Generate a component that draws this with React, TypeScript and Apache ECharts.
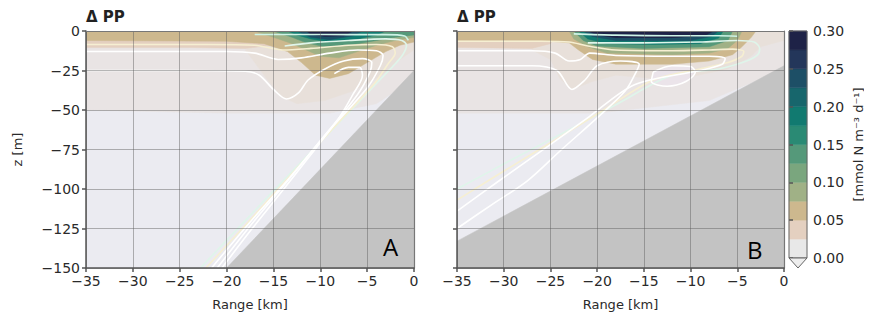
import React, { useEffect, useRef } from "react";
import * as echarts from "echarts";

const FONT = "DejaVu Sans";
const TXT = "#2a2a2a";

// ---- colour bar ----
const cbarLevels = [0, 0.025, 0.05, 0.075, 0.1, 0.125, 0.15, 0.175, 0.2, 0.225, 0.25, 0.275, 0.3];
const cbarColors = ["#e8e8e8", "#e4d0c0", "#cdb88e", "#a0b186", "#7aa67e", "#55997a", "#2a8a74", "#117a70", "#17666c", "#1d4f66", "#23365a", "#1e2247"];
const NEG = "#ebebf1";
const PINK = "#e9e4e4";
const PALE = "#e8e0da";
const GROUND = "#c3c3c3";

// ---- panel A fields (x = range km, z = depth m) ----
const A_water = [[-35, 0], [0, 0], [0, -150], [-35, -150]];
const A_lv0 = [[-35, 0], [0, 0], [0, -30], [-4, -46], [-9, -52], [-20, -52], [-35, -50]];
const A_pale = [[-14, 0], [0, 0], [0, -12], [-1.5, -18], [-3.5, -28], [-6.5, -38], [-9.5, -44], [-12.5, -46], [-14, -42], [-15.5, -32], [-17, -20], [-18, -12]];
const A_lv1 = [[-35, 0], [-14, 0], [-15, -9], [-18, -11], [-24, -10.5], [-35, -10.5]];
const A_lv2 = [[-35, 0], [0, 0], [0, -7], [-1.5, -9], [-3, -13], [-5, -20], [-7, -27], [-9, -30], [-10.5, -28], [-12, -20], [-13.5, -13], [-16, -8], [-20, -6.5], [-35, -6]];
const A_lv3 = [[-17, 0], [0, 0], [0, -4], [-2, -6], [-4, -9], [-6, -13], [-8, -17], [-10, -16], [-11.5, -12], [-13, -8], [-15, -4]];
const A_lv5 = [[-15, 0], [0, 0], [0, -2.5], [-2, -4], [-4, -6], [-7, -9], [-9.5, -10], [-11.5, -7.5], [-13, -4]];
const A_lv7 = [[-13.5, 0], [-3, 0], [-4, -2.5], [-6, -5], [-9, -7], [-11, -5], [-12.5, -2.5]];
const A_lv9 = [[-12.5, 0], [-5.5, 0], [-6.5, -3], [-9, -5.5], [-11, -4]];
const A_lv11 = [[-11.5, 0], [-6.5, 0], [-7.5, -3], [-9.5, -3.5], [-11, -2]];
const A_ground = [[-20, -150], [0, -25], [0, -150]];

// ---- panel B fields ----
const B_water = [[-35, 0], [0, 0], [0, -150], [-35, -150]];
const B_lv0 = [[-35, 0], [0, 0], [0, -24], [-8, -44], [-20, -52], [-35, -52]];
const B_pale = [[-26, 0], [0, 0], [0, -6], [-2.5, -10], [-3.5, -16], [-6, -24], [-10, -29], [-14, -30], [-18, -28], [-20.5, -32], [-22.7, -37], [-24, -30], [-25, -18], [-27, -12]];
const B_lv1 = [[-35, 0], [-24, 0], [-25, -8], [-27, -11], [-35, -10.5]];
const B_loop = [[-14, -26], [-12, -22], [-10, -22.5], [-9.5, -26], [-10.5, -32], [-12.5, -35], [-14.2, -32]];
const B_lv2 = [[-35, 0], [-3, 0], [-3.5, -4], [-4.5, -10], [-5.5, -15], [-8, -19], [-12, -21], [-18, -21], [-20.5, -18], [-22, -12], [-23, -7.5], [-26, -6], [-35, -6]];
const B_lv3 = [[-23, 0], [-4.5, 0], [-5, -6], [-6, -11], [-8, -14], [-12, -15], [-19, -14], [-21, -10], [-22.5, -5]];
const B_lv5 = [[-22.5, 0], [-5.5, 0], [-6, -6], [-8, -10], [-15, -11], [-20, -9.5], [-21.5, -6]];
const B_lv7 = [[-22, 0], [-6.5, 0], [-7, -4.5], [-9, -8], [-14, -8.5], [-19, -8], [-21, -5]];
const B_lv9 = [[-21.5, 0], [-7, 0], [-7.8, -3.5], [-10, -6], [-18, -6], [-20.5, -3.5]];
const B_lv11 = [[-21, 0], [-7.5, 0], [-8.5, -3], [-12, -4.2], [-18, -4.2], [-20, -2.5]];
const B_ground = [[-35, -133], [0, -22], [0, -150], [-35, -150]];

// ---- contour lines ----
const A_c1 = [[-17, -2.2], [-12, -2.2], [-7, -2.3], [-3, -2.3], [-1, -3.2], [-0.6, -6]];
const A_c2 = [[-13.8, -9.5], [-11, -7.5], [-7, -6], [-3, -5], [-1.3, -6], [-0.8, -9], [-1.2, -15], [-2.2, -22], [-3.5, -30], [-8.3, -60], [-13.2, -90], [-18, -120], [-22.8, -150]];
const A_c3 = [[-35, -8.5], [-22, -8.5], [-17, -9], [-14, -12], [-11, -11], [-7, -9], [-4, -8.5], [-2.3, -10], [-2, -14], [-2.8, -21], [-4.2, -33], [-8.7, -62], [-13.2, -91.5], [-17.7, -121], [-22.2, -150]];
const A_c4 = [[-35, -13], [-20, -13], [-17, -14], [-14.5, -18], [-12, -17], [-9, -14], [-6, -12], [-4, -12.5], [-3.3, -15.5], [-3.6, -22], [-5, -36], [-9.2, -64], [-13.3, -93], [-17.5, -121], [-21.6, -150]];
const A_c5 = [[-35, -25], [-25, -25], [-18, -25.5], [-16.5, -28], [-15, -37], [-13.6, -43], [-12.3, -39], [-11.3, -31], [-9.5, -24], [-7.5, -19], [-5.5, -17.5], [-4.5, -20], [-4.7, -26], [-6, -40], [-9.8, -68], [-13.5, -95], [-17.3, -122], [-21, -150]];
const A_c6 = [[-8.5, -27], [-7, -23], [-5.8, -23], [-5.5, -28], [-6.5, -40], [-8, -55], [-11.1, -79], [-14.3, -103], [-17.4, -126], [-20.5, -150]];

const B_c1 = [[-22.5, -1.8], [-18, -2.6], [-12, -3], [-7, -3], [-5, -3.3]];
const B_c2 = [[-21, -7.5], [-15, -7.5], [-9, -7], [-5, -6], [-3.2, -7], [-2.6, -11], [-2.8, -15], [-4, -19], [-7, -24], [-12, -28], [-17.8, -46], [-23.5, -64], [-29.3, -82], [-35, -100]];
const B_c3 = [[-35, -6.5], [-26, -6.5], [-23, -7], [-21, -9.5], [-18, -12], [-12, -12.5], [-8, -12], [-5.5, -11.5], [-4.3, -13], [-4.5, -16], [-6, -20], [-9, -24], [-14, -31], [-19.3, -50], [-24.5, -69], [-29.8, -88], [-35, -107]];
const B_c4 = [[-35, -12.5], [-27, -12.5], [-24.5, -14], [-23, -19], [-21.8, -18], [-20.8, -14], [-18, -15.5], [-12, -16], [-8, -16], [-6.3, -17.5], [-6.6, -21], [-9, -25], [-16, -34], [-20.8, -54], [-25.5, -74], [-30.3, -94], [-35, -114]];
const B_c5 = [[-35, -22], [-27, -22], [-24.3, -25], [-22.7, -37], [-21.3, -31], [-20, -22], [-17.5, -19], [-15.5, -21], [-16, -28], [-17, -38], [-20, -55], [-23.8, -75], [-27.5, -95], [-31.3, -110], [-35, -125]];
const B_c6 = [[-14, -26], [-12, -22], [-10, -22.5], [-9.5, -26], [-10.5, -32], [-12.5, -35], [-14.2, -32], [-14, -26]];

const rangeTicksLabel = (v: number) => (v < 0 ? "\u2212" + Math.abs(v) : String(v));

type Fill = { pts: number[][]; color: string };

const fillsA: Fill[] = [
  { pts: A_water, color: NEG },
  { pts: A_lv0, color: PINK },
  { pts: A_pale, color: PALE },
  { pts: A_lv1, color: cbarColors[1] },
  { pts: A_lv2, color: cbarColors[2] },
  { pts: A_lv3, color: cbarColors[3] },
  { pts: A_lv5, color: cbarColors[5] },
  { pts: A_lv7, color: cbarColors[7] },
  { pts: A_lv9, color: cbarColors[9] },
  { pts: A_lv11, color: cbarColors[11] },
];
const fillsB: Fill[] = [
  { pts: B_water, color: NEG },
  { pts: B_lv0, color: PINK },
  { pts: B_pale, color: PALE },
  { pts: B_lv1, color: cbarColors[1] },
  { pts: B_loop, color: "#ebe4ea" },
  { pts: B_lv2, color: cbarColors[2] },
  { pts: B_lv3, color: cbarColors[3] },
  { pts: B_lv5, color: cbarColors[5] },
  { pts: B_lv7, color: cbarColors[7] },
  { pts: B_lv9, color: cbarColors[9] },
  { pts: B_lv11, color: cbarColors[11] },
];

function polySeries(fills: Fill[], idx: number, z: number) {
  return {
    type: "custom",
    xAxisIndex: idx,
    yAxisIndex: idx,
    clip: true,
    silent: true,
    z,
    data: fills.map((f) => f.pts[0]),
    renderItem: (params: any, api: any) => {
      const f = fills[params.dataIndex];
      return {
        type: "polygon",
        shape: { points: f.pts.map((p) => api.coord(p)) },
        style: { fill: f.color, stroke: f.color, lineWidth: 0.5 },
      };
    },
  };
}

function lineSeries(pts: number[][], color: string, idx: number) {
  return {
    type: "line",
    xAxisIndex: idx,
    yAxisIndex: idx,
    data: pts,
    smooth: 0.3,
    showSymbol: false,
    symbol: "none",
    silent: true,
    clip: true,
    z: 3,
    lineStyle: { color, width: 1.6 },
  };
}

const axisLineStyle = { color: "#555", width: 1.5 };
const splitLineStyle = { color: "rgba(90,90,90,0.45)", width: 1 };

function xAxisMain(gi: number) {
  return {
    gridIndex: gi,
    type: "value",
    min: -35,
    max: 0,
    interval: 5,
    position: "bottom",
    z: 5,
    name: "Range [km]",
    nameLocation: "middle",
    nameGap: 30,
    nameTextStyle: { fontFamily: FONT, fontSize: 13, color: TXT },
    axisLine: { show: true, onZero: false, lineStyle: axisLineStyle },
    axisTick: { show: true, length: 4, lineStyle: axisLineStyle },
    axisLabel: { fontFamily: FONT, fontSize: 14, color: TXT, margin: 6, formatter: rangeTicksLabel },
    splitLine: { show: true, lineStyle: splitLineStyle },
  };
}
function xAxisTop(gi: number) {
  return {
    gridIndex: gi, type: "value", min: -35, max: 0, interval: 5, position: "top", z: 5,
    axisLine: { show: true, onZero: false, lineStyle: { color: "#777", width: 1.2 } },
    axisTick: { show: false }, axisLabel: { show: false }, splitLine: { show: false },
  };
}
function yAxisMain(gi: number, labels: boolean) {
  return {
    gridIndex: gi,
    type: "value",
    min: -150,
    max: 0,
    interval: 25,
    position: "left",
    z: 5,
    name: labels ? "z [m]" : "",
    nameLocation: "middle",
    nameGap: 62,
    nameRotate: 90,
    nameTextStyle: { fontFamily: FONT, fontSize: 13, color: TXT },
    axisLine: { show: true, onZero: false, lineStyle: axisLineStyle },
    axisTick: { show: true, length: 4, lineStyle: axisLineStyle },
    axisLabel: { show: labels, fontFamily: FONT, fontSize: 14, color: TXT, margin: 6, formatter: rangeTicksLabel },
    splitLine: { show: true, lineStyle: splitLineStyle },
  };
}
function yAxisRight(gi: number) {
  return {
    gridIndex: gi, type: "value", min: -150, max: 0, interval: 25, position: "right", z: 5,
    axisLine: { show: true, onZero: false, lineStyle: { color: "#777", width: 1.2 } },
    axisTick: { show: false }, axisLabel: { show: false }, splitLine: { show: false },
  };
}

export default function App() {
  const ref = useRef<HTMLDivElement>(null);
  useEffect(() => {
    if (!ref.current) return;
    const chart = echarts.init(ref.current, undefined, { renderer: "svg" });
    const cbarSeries = {
      type: "custom",
      xAxisIndex: 4,
      yAxisIndex: 4,
      silent: true,
      z: 2,
      data: cbarColors.map((_, i) => [0.5, (cbarLevels[i] + cbarLevels[i + 1]) / 2]),
      renderItem: (params: any, api: any) => {
        const i = params.dataIndex;
        const p0 = api.coord([0, cbarLevels[i]]);
        const p1 = api.coord([1, cbarLevels[i + 1]]);
        return {
          type: "rect",
          shape: { x: p0[0], y: p1[1], width: p1[0] - p0[0], height: p0[1] - p1[1] },
          style: { fill: cbarColors[i], stroke: cbarColors[i], lineWidth: 0.5 },
        };
      },
    };
    const option: any = {
      animation: false,
      grid: [
        { left: 78, top: 23, width: 328, height: 237 },
        { left: 449, top: 23, width: 327, height: 237 },
        { left: 781, top: 23, width: 18, height: 227 },
      ],
      xAxis: [
        xAxisMain(0),
        xAxisMain(1),
        xAxisTop(0),
        xAxisTop(1),
        { gridIndex: 2, type: "value", min: 0, max: 1, show: false },
      ],
      yAxis: [
        yAxisMain(0, true),
        yAxisMain(1, false),
        yAxisRight(0),
        yAxisRight(1),
        {
          gridIndex: 2,
          type: "value",
          min: 0,
          max: 0.3,
          interval: 0.05,
          position: "right",
          z: 5,
          name: "[mmol N m\u207B\u00B3 d\u207B\u00B9]",
          nameLocation: "middle",
          nameGap: 45,
          nameRotate: 90,
          nameTextStyle: { fontFamily: FONT, fontSize: 13, color: TXT },
          axisLine: { show: false },
          axisTick: { show: true, length: 4, lineStyle: axisLineStyle },
          axisLabel: { fontFamily: FONT, fontSize: 14, color: TXT, margin: 6, formatter: (v: number) => v.toFixed(2) },
          splitLine: { show: false },
        },
      ],
      series: [
        polySeries(fillsA, 0, 1),
        polySeries(fillsB, 1, 1),
        lineSeries(A_c1, "#cdf3e6", 0),
        lineSeries(A_c2, "#dff5ea", 0),
        lineSeries(A_c3, "#f6efd2", 0),
        lineSeries(A_c4, "#ffffff", 0),
        lineSeries(A_c5, "#ffffff", 0),
        lineSeries(A_c6, "#ffffff", 0),
        lineSeries(B_c1, "#cdf3e6", 1),
        lineSeries(B_c2, "#dff5ea", 1),
        lineSeries(B_c3, "#f6efd2", 1),
        lineSeries(B_c4, "#ffffff", 1),
        lineSeries(B_c5, "#ffffff", 1),
        lineSeries(B_c6, "#ffffff", 1),
        polySeries([{ pts: A_ground, color: GROUND }], 0, 4),
        polySeries([{ pts: B_ground, color: GROUND }], 1, 4),
        cbarSeries,
      ],
      graphic: [
        { type: "text", x: 78, y: 1, z: 100, style: { text: "\u0394 PP", fill: "#222", font: `bold 15px '${FONT}'`, textVerticalAlign: "top" } },
        { type: "text", x: 449, y: 1, z: 100, style: { text: "\u0394 PP", fill: "#222", font: `bold 15px '${FONT}'`, textVerticalAlign: "top" } },
        { type: "text", x: 375, y: 226, z: 100, style: { text: "A", fill: "#000", font: "24px 'Open Sans'", textVerticalAlign: "top" } },
        { type: "text", x: 739, y: 229, z: 100, style: { text: "B", fill: "#000", font: "24px 'Open Sans'", textVerticalAlign: "top" } },
        { type: "rect", z: 100, shape: { x: 781, y: 23, width: 18, height: 227 }, style: { fill: "none", stroke: "#666", lineWidth: 1 } },
        { type: "polygon", z: 100, shape: { points: [[781, 250], [799, 250], [790, 260]] }, style: { fill: "#eeeeee", stroke: "#666", lineWidth: 1 } },
      ],
    };
    chart.setOption(option);
    return () => chart.dispose();
  }, []);
  return <div ref={ref} style={{ width: 872, height: 320 }} />;
}
